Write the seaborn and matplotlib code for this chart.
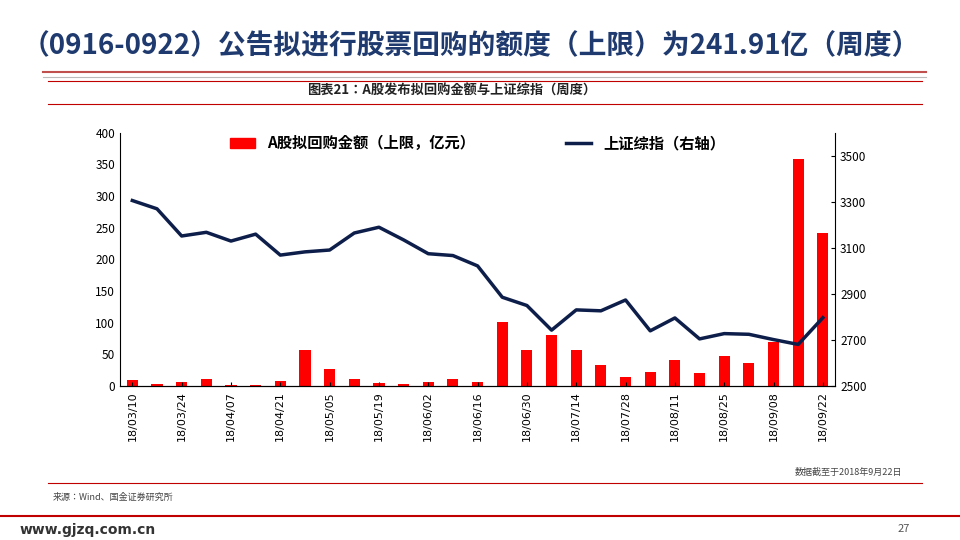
import matplotlib
matplotlib.use("Agg")
import matplotlib.pyplot as plt
import seaborn as sns
import pandas as pd
from matplotlib import font_manager
from matplotlib.lines import Line2D
from matplotlib.patches import Patch

# find an installed CJK font by name
cjk = [f.name for f in font_manager.fontManager.ttflist if "CJK" in f.name]
cjk_name = next((n for n in cjk if "SC" in n), cjk[0] if cjk else "DejaVu Sans")
plt.rcParams["font.family"] = [cjk_name, "DejaVu Sans"]
plt.rcParams["axes.unicode_minus"] = False

dates = ["18/03/10", "18/03/17", "18/03/24", "18/03/31", "18/04/07", "18/04/14", "18/04/21",
         "18/04/28", "18/05/05", "18/05/12", "18/05/19", "18/05/26", "18/06/02", "18/06/09",
         "18/06/16", "18/06/23", "18/06/30", "18/07/07", "18/07/14", "18/07/21", "18/07/28",
         "18/08/04", "18/08/11", "18/08/18", "18/08/25", "18/09/01", "18/09/08", "18/09/15",
         "18/09/22"]
buyback = [9, 3, 6, 11, 1, 1, 8, 57, 27, 11, 5, 3, 6, 11, 6, 101, 57, 80, 57, 34, 14,
           22, 41, 20, 47, 37, 69, 358, 241.91]
sh_index = [3306, 3270, 3152, 3168, 3130, 3160, 3069, 3083, 3091, 3165, 3190, 3135, 3075,
            3067, 3022, 2886, 2850, 2743, 2831, 2827, 2874, 2740, 2796, 2705, 2728, 2725,
            2702, 2681, 2797]

df = pd.DataFrame({"date": dates, "buyback": buyback, "index": sh_index, "pos": range(len(dates))})

fig = plt.figure(figsize=(9.6, 5.4), dpi=100)
ax = fig.add_axes([0.125, 0.285, 0.745, 0.469])
sns.barplot(data=df, x="date", y="buyback", color="#FF0000", saturation=1, width=0.45, ax=ax)
ax.set_ylim(0, 400)
ax.set_xlim(-0.5, len(dates) - 0.5)
ax.set_yticks(range(0, 401, 50))
ax.set_xticks(range(0, len(dates), 2))
ax.set_xticklabels(dates[::2], rotation=90, fontsize=8, family="DejaVu Sans")
ax.set_xlabel("")
ax.set_ylabel("")
ax.tick_params(axis="y", labelsize=8.5, length=0)
ax.tick_params(axis="x", length=3, direction="in")
for s in ["top", "right"]:
    ax.spines[s].set_visible(False)

ax2 = ax.twinx()
sns.lineplot(data=df, x="pos", y="index", color="#0E1E4A", linewidth=2.5, ax=ax2)
ax2.set_ylim(2500, 3600)
ax2.set_yticks(range(2500, 3501, 200))
ax2.tick_params(axis="y", labelsize=8.5, length=3, direction="in")
ax2.set_ylabel("")
ax2.set_xlabel("")
ax2.spines["top"].set_visible(False)
ax2.spines["left"].set_visible(False)

handles = [Patch(color="#FF0000"), Line2D([], [], color="#0E1E4A", lw=2.5)]
ax.legend(handles, ["A股拟回购金额（上限，亿元）", "上证综指（右轴）"], loc="upper center",
          ncol=2, frameon=False, prop={"size": 11, "weight": "bold"}, bbox_to_anchor=(0.5, 1.045),
          columnspacing=6, handlelength=1.6, handleheight=0.6)

fig.text(0.49, 0.915, "（0916-0922）公告拟进行股票回购的额度（上限）为241.91亿（周度）",
         ha="center", va="center", fontsize=20, weight="bold", color="#1F3A6E")
fig.add_artist(Line2D([0.045, 0.965], [0.866, 0.866], color="#C0504D", lw=1.5))
fig.add_artist(Line2D([0.045, 0.965], [0.858, 0.858], color="#BBBBBB", lw=0.8))
fig.add_artist(Line2D([0.05, 0.96], [0.85, 0.85], color="#C00000", lw=0.8))
fig.text(0.47, 0.832, "图表21：A股发布拟回购金额与上证综指（周度）", ha="center", va="center",
         fontsize=9.5, weight="bold", color="#222222")
fig.add_artist(Line2D([0.05, 0.96], [0.807, 0.807], color="#C00000", lw=0.8))
fig.text(0.94, 0.12, "数据截至于2018年9月22日", ha="right", fontsize=6.5, style="italic", color="#444444")
fig.add_artist(Line2D([0.05, 0.96], [0.105, 0.105], color="#C00000", lw=0.8))
fig.text(0.055, 0.075, "来源：Wind、国金证券研究所", fontsize=6.5, style="italic", color="#444444")
fig.add_artist(Line2D([0.0, 1.0], [0.045, 0.045], color="#C00000", lw=1.5))
fig.text(0.02, 0.012, "www.gjzq.com.cn", fontsize=10, weight="bold", color="#333333", family="DejaVu Sans")
fig.text(0.935, 0.015, "27", fontsize=8, color="#555555")

fig.savefig("out.png", dpi=100)
